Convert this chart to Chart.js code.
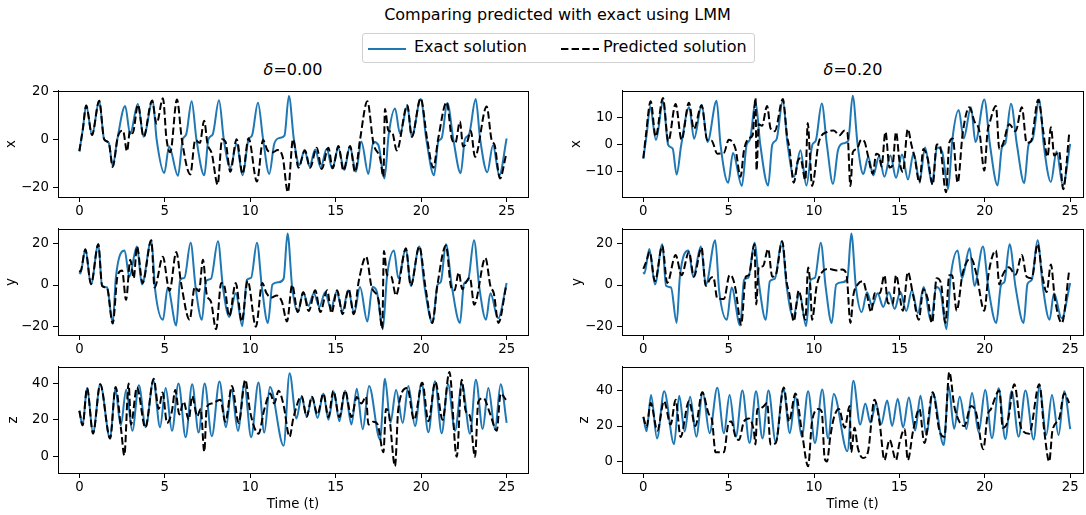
<!DOCTYPE html>
<html>
<head>
<meta charset="utf-8">
<script src="https://cdn.jsdelivr.net/npm/chart.js@4.4.1/dist/chart.umd.min.js"></script>
<style>
  html, body { margin: 0; padding: 0; background: #fff; }
  body { width: 1086px; height: 515px; position: relative; overflow: hidden;
         font-family: "DejaVu Sans", sans-serif; color: #000; }
  .suptitle { position: absolute; left: 0; width: 1115px; top: 6px; text-align: center;
              font-size: 16px; line-height: 18px; }
  .legend { position: absolute; left: 362px; top: 33px; width: 391px; height: 28px;
            border: 1px solid #d0d0d0; border-radius: 3px; background: #fff; }
  .legend svg { position: absolute; top: 13px; }
  .legend span { position: absolute; top: 4px; font-size: 16px; line-height: 18px; white-space: nowrap; }
  .ptitle { position: absolute; top: 61px; font-size: 16px; line-height: 18px; text-align: center; }
  .panel { position: absolute; }
</style>
</head>
<body>
<div class="suptitle">Comparing predicted with exact using LMM</div>
<div class="legend">
  <svg style="left:4px" width="40" height="4"><line x1="1" y1="2" x2="39" y2="2" stroke="#1f77b4" stroke-width="2"/></svg>
  <span style="left:51px">Exact solution</span>
  <svg style="left:197px" width="40" height="4"><line x1="1" y1="2" x2="39" y2="2" stroke="#000" stroke-width="2" stroke-dasharray="7.4 3.2"/></svg>
  <span style="left:240px">Predicted solution</span>
</div>
<div class="ptitle" style="left:58px;width:470px"><i>δ</i>=0.00</div>
<div class="ptitle" style="left:622px;width:462px"><i>δ</i>=0.20</div>

<script>
// time / value pairs for the exact Lorenz trajectory (same in both columns)
const exactX = [[0,-5],[0.2,4],[0.4,14],[0.74,1.8],[1.16,16],[1.45,0],[1.72,-1.5],[1.95,-11],[2.22,0],[2.68,13.8],[2.97,2.2],[3.42,14.6],[3.76,1],[4.29,16.2],[4.52,0],[4.97,-14],[5.25,-3],[5.77,-15.2],[6.05,0],[6.25,2],[6.57,15.8],[6.85,0],[7.31,-15],[7.55,0],[7.8,2],[8.17,16.2],[8.45,0],[8.83,-11.8],[9.2,-2],[9.55,-15],[9.9,0],[10.1,1.5],[10.45,15.2],[10.75,0],[11.11,-14.4],[11.4,-2],[11.7,0.5],[12.0,1.5],[12.26,18],[12.55,0],[12.88,-10.8],[13.17,-4.5],[13.47,-11.3],[13.8,-4.3],[14.12,-11.8],[14.47,-4],[14.8,-12.2],[15.15,-3.6],[15.5,-12.8],[15.83,-3],[16.18,-13.5],[16.5,-1],[16.91,-14.4],[17.2,-1],[17.5,-2.5],[17.85,-16.3],[18.1,2],[18.47,12.8],[18.76,2.3],[19.19,13.8],[19.45,1],[19.97,16.7],[20.3,0],[20.75,-15],[21.0,-1],[21.2,0.5],[21.53,15.1],[21.88,0],[22.31,-14.1],[22.56,0],[22.8,2],[23.19,16.7],[23.45,0],[23.87,-13.7],[24.2,-2.5],[24.57,-15],[25,0.3]];
const exactY = [[0,6.2],[0.06,5.5],[0.35,17.3],[0.68,0.3],[1.11,19.6],[1.33,-0.4],[1.62,-1.2],[1.95,-18.2],[2.14,4],[2.65,16.6],[2.92,4],[3.37,18.5],[3.66,0.3],[4.21,21.5],[4.44,-2.7],[4.89,-16.7],[5.17,-1.2],[5.67,-19.4],[5.9,2.5],[6.15,3.5],[6.51,20.3],[6.8,-1],[7.17,-16.7],[7.41,1.8],[7.7,3],[8.11,21],[8.4,-1],[8.77,-15.3],[9.15,-4],[9.53,-19.7],[9.8,2.5],[10.05,3.5],[10.39,20.3],[10.68,-1],[11.03,-18.2],[11.3,0.3],[11.66,1.3],[11.95,3],[12.18,24.7],[12.45,-1],[12.79,-13],[13.1,-3.5],[13.4,-10],[13.72,-4],[14.05,-10.5],[14.38,-3.5],[14.72,-11.5],[15.05,-3.2],[15.4,-12.5],[15.73,-2.5],[16.08,-13.5],[16.42,-1],[16.85,-17.5],[17.15,-1],[17.4,-3],[17.75,-21.2],[18.0,4],[18.41,16.6],[18.66,3.3],[19.11,17.6],[19.39,-0.4],[19.89,18.5],[20.2,-1],[20.67,-18.2],[20.95,0],[21.15,1.5],[21.45,19.6],[21.8,-1],[22.27,-18.2],[22.5,0.5],[22.75,2.5],[23.09,21.5],[23.4,-1],[23.79,-16.7],[24.05,-4],[24.5,-16],[25,1]];
const exactZ = [[0,25],[0.19,17],[0.45,37.5],[0.8,13],[1.22,39.5],[1.8,9.8],[2.1,37],[2.42,17],[2.74,36.5],[3.1,14],[3.48,39],[3.88,16],[4.33,41.5],[4.72,16],[5.05,37.5],[5.42,14],[5.8,40],[6.22,10.5],[6.6,39.5],[6.98,13],[7.33,40],[7.75,11],[8.2,41],[8.58,16],[8.9,36.5],[9.28,14],[9.65,39.5],[10.05,10.5],[10.48,40.5],[10.82,13],[11.15,38],[11.95,5.8],[12.3,45.5],[12.7,20.8],[13.0,32.7],[13.3,22],[13.63,32.7],[13.93,21],[14.28,34.4],[14.57,20],[14.9,35.3],[15.21,19.2],[15.55,36],[15.92,17.5],[16.23,37],[16.58,14.9],[16.95,38.6],[17.59,9.3],[17.88,42.5],[18.2,18.5],[18.53,36.4],[18.92,18.3],[19.25,38.6],[19.64,16.6],[20.02,40.3],[20.42,13.2],[20.81,41.2],[21.2,12.7],[21.57,39.5],[21.98,14],[22.38,40],[22.86,12.4],[23.2,42],[23.6,15],[23.93,37.5],[24.32,14.9],[24.65,39.5],[25,18.3]];

// predicted trajectory, delta = 0.00
const predX0 = [[0,-5],[0.2,4],[0.4,14],[0.74,1.8],[1.16,16],[1.45,0],[1.72,-1.5],[1.95,-11.5],[2.25,1],[2.55,3.6],[2.79,-5],[2.96,3.5],[3.12,2.5],[3.43,14.3],[3.76,1],[4.25,16],[4.52,6.5],[4.89,17],[5.1,0],[5.32,-5.4],[5.71,16.5],[6.0,-0.3],[6.49,-14.6],[6.78,-0.3],[7.05,-1.5],[7.3,7.7],[7.5,-2],[7.75,-6],[8.09,-18.8],[8.35,0],[8.55,-1],[8.83,-13.5],[9.2,0],[9.55,-14.4],[9.9,0.4],[10.39,-17.6],[10.75,-0.3],[11.0,-4.5],[11.3,-5.5],[11.6,-4.5],[11.9,-7.5],[12.2,-22],[12.5,0],[12.82,-11.8],[13.2,-4.7],[13.5,-11.8],[13.89,-3.5],[14.18,-12.4],[14.57,-3.5],[14.82,-12],[15.16,-2.8],[15.45,-13],[15.84,-2.8],[16.13,-13.6],[16.42,-0.3],[16.85,15.8],[17.2,-1.5],[17.6,-8],[17.79,-15.6],[17.88,12.6],[18.08,3.6],[18.3,3],[18.57,-4.7],[19.19,14.1],[19.45,1],[19.97,17],[20.35,0],[20.71,-11.8],[21.0,0.4],[21.49,15.4],[21.8,0],[22.0,-1.5],[22.27,7.4],[22.45,-3],[22.7,-1],[22.9,3.5],[23.15,-7.3],[23.83,13.6],[24.12,-0.3],[24.3,-2.5],[24.61,-16.3],[24.96,-6.7]];
const predY0 = [[0,7],[0.06,6.5],[0.35,17],[0.68,0.5],[1.11,19.6],[1.33,-0.4],[1.62,-1.5],[1.95,-18.5],[2.24,4.7],[2.5,7],[2.73,-7.1],[2.98,12.1],[3.18,3.3],[3.37,18.5],[3.7,1],[4.21,21.5],[4.4,-1.2],[4.89,13.6],[5.17,0.3],[5.28,-2.7],[5.67,15.9],[5.95,1],[6.45,-16.7],[6.75,-1],[7.0,-3],[7.23,12.1],[7.45,-4.5],[7.7,-8],[8.0,-21.2],[8.3,1],[8.5,-1],[8.77,-15],[9.15,1],[9.5,-17.5],[9.85,2],[10.33,-20],[10.7,1],[10.95,-4],[11.25,-6],[11.55,-5],[11.85,-8],[12.15,-17.5],[12.45,0],[12.78,-13],[13.1,-3.5],[13.42,-12.5],[13.8,-2.5],[14.1,-13],[14.5,-2.5],[14.75,-13.5],[15.08,-2.5],[15.4,-14],[15.76,-2],[16.05,-14],[16.35,2],[16.78,13.6],[17.1,-1],[17.5,-7],[17.72,-21],[17.82,16.3],[18.0,5],[18.25,4],[18.52,-5],[19.11,17.5],[19.39,-0.4],[19.89,18.5],[20.25,-1],[20.65,-18.2],[20.95,0],[21.45,19],[21.75,-1],[21.95,-2.5],[22.2,6],[22.4,-2],[22.6,1],[22.85,3.5],[23.1,-9.5],[23.76,13],[24.05,-0.5],[24.25,-4],[24.52,-18.2],[24.96,-1]];
const predZ0 = [[0,25],[0.19,17],[0.45,37.5],[0.8,12.4],[1.22,39.5],[1.8,9.8],[2.12,38],[2.45,14],[2.63,0.5],[2.88,40],[3.02,17.5],[3.37,37.8],[3.86,15.8],[4.35,42.5],[4.64,26],[4.87,35],[5.13,18.3],[5.42,25],[5.61,36.4],[5.85,23],[6.1,30],[6.4,20],[6.6,33],[6.9,22],[7.1,26],[7.31,2.5],[7.45,27],[7.75,29],[8.25,31],[8.54,19],[8.93,38.6],[9.32,18.3],[9.71,42],[10.0,24],[10.49,12.4],[10.8,25],[11.17,34.4],[11.4,29],[11.66,36],[11.95,28],[12.3,10.7],[12.52,21],[13.01,33],[13.3,21.7],[13.6,32.7],[13.93,23],[14.28,34.4],[14.57,21.5],[14.86,36],[15.21,21.5],[15.55,36],[15.92,21.5],[16.23,32.5],[16.5,29],[16.77,32.7],[16.91,17.5],[17.2,19],[17.45,17.5],[17.79,2.2],[17.94,26],[18.1,24],[18.47,-5.4],[18.66,26],[19.19,37.5],[19.58,20],[20.07,40.3],[20.42,19.2],[20.83,40.8],[21.25,20],[21.65,46.3],[22.08,-0.3],[22.37,42],[22.6,25],[22.85,22],[23.15,-0.3],[23.34,30],[23.64,31.9],[24.03,23.4],[24.42,14],[24.65,34.4],[24.96,31]];

// predicted trajectory, delta = 0.20
const predX2 = [[0,-5],[0.14,3],[0.43,16],[0.72,3],[1.15,17.2],[1.46,1.2],[1.89,15],[2.24,1.8],[2.67,15.5],[2.96,5.8],[3.41,14.5],[3.74,1.8],[4.0,1.5],[4.33,-3.3],[4.72,-3],[5.0,1.8],[5.15,1.5],[5.4,-1.6],[5.69,-11.8],[5.89,-2.2],[6.18,2.4],[6.4,3.5],[6.57,17.2],[6.63,-9.5],[6.76,7.5],[6.95,7],[7.25,14.3],[7.45,6],[7.7,5],[8.17,16.8],[8.42,3],[8.55,-1],[8.81,-14],[9.05,-6],[9.2,-5],[9.49,-13],[9.63,8],[9.75,-3],[9.88,-15.2],[10.27,0.7],[10.76,4.7],[11.15,5.2],[11.49,3.5],[11.78,5.2],[11.95,4.5],[12.13,-15.2],[12.27,-2.7],[12.5,-1.6],[12.76,1.8],[12.95,1.2],[13.15,-3.9],[13.44,-10.7],[13.64,-3.3],[13.8,-3.8],[13.95,-8],[14.18,4.7],[14.42,-8.4],[14.6,-7.5],[14.8,4.7],[15.0,-6],[15.2,-10],[15.49,5.8],[15.7,0],[15.9,-5],[16.17,-14],[16.4,-1.6],[16.65,-5],[16.95,-14.7],[17.18,0.1],[17.35,0],[17.73,-17.5],[17.92,0.7],[18.12,2.3],[18.41,-14],[18.7,4],[19.09,13.8],[19.39,8.6],[19.68,5],[19.97,-9.5],[20.16,5],[20.26,7.5],[20.65,14.3],[20.85,-1.6],[21.05,0.1],[21.43,7.5],[21.8,5],[22.17,13.8],[22.45,0.7],[22.7,1.2],[23.13,16.6],[23.42,5],[23.67,-4.4],[23.87,6.4],[24.07,-4],[24.35,-2.5],[24.59,-16.4],[24.94,4.1]];
const predY2 = [[0,7.7],[0.18,11.4],[0.37,15.9],[0.68,1.8],[1.11,18.8],[1.4,1],[1.89,14.4],[2.24,4.7],[2.67,15.9],[2.96,4],[3.41,18],[3.65,-0.4],[3.94,3.3],[4.1,3.8],[4.33,-6.4],[4.72,-6.7],[5.05,4.7],[5.2,4],[5.4,-2],[5.73,-19],[6.0,4],[6.18,4.7],[6.51,19.6],[6.61,-9.3],[6.76,8.5],[7.0,9],[7.31,17.3],[7.55,4],[7.75,4.7],[8.13,21],[8.4,1],[8.55,-4],[8.81,-17.5],[9.1,-2.7],[9.49,-16.7],[9.65,8.4],[9.78,-0.5],[9.88,-16.7],[10.15,-0.5],[10.47,6.2],[10.86,7.7],[11.35,7],[11.65,7.5],[11.9,5],[12.13,-18.2],[12.3,-4.9],[12.56,0.3],[12.86,1.8],[13.1,-4.9],[13.34,-13],[13.55,-4],[13.85,-4],[14.12,4.7],[14.32,-8.5],[14.6,-9.3],[14.8,4.7],[15.2,-12.3],[15.49,6.2],[15.8,-4.9],[16.13,-16.7],[16.4,-2],[16.65,-6.5],[16.91,-18.2],[17.18,3.3],[17.43,1],[17.69,-18.2],[17.92,4.7],[18.08,4.7],[18.35,-12.3],[18.7,5.5],[19.19,12.9],[19.5,5.5],[19.97,-12.3],[20.22,5.5],[20.65,16.6],[20.85,0.3],[21.0,4],[21.4,8.5],[21.8,5],[22.17,14.4],[22.45,4],[22.75,3.3],[23.09,19.6],[23.38,4],[23.62,-3.4],[23.87,9.9],[24.1,-6.4],[24.51,-18.2],[24.94,7]];
const predZ2 = [[0,25.2],[0.19,19.5],[0.43,33],[0.82,17.4],[1.21,34],[1.6,20.9],[1.89,34.8],[2.18,13.9],[2.67,34],[3.05,20],[3.45,39],[3.82,27],[4.02,23.5],[4.23,5.2],[4.72,5.2],[4.97,21],[5.15,22.6],[5.4,13.9],[5.6,12.2],[5.89,22.6],[6.18,24.3],[6.47,17.4],[6.57,9.6],[6.67,29.6],[6.8,29.6],[7.06,31.3],[7.25,33],[7.45,9.6],[7.75,10.4],[8.23,41.7],[8.53,22.6],[8.91,38.3],[9.3,15.7],[9.65,-2.6],[9.88,22.6],[10.27,29.6],[10.45,28],[10.62,1.7],[10.75,0],[10.95,14],[11.15,24.3],[11.45,29.6],[11.8,19],[12.08,31.3],[12.17,5.2],[12.37,19],[12.56,7.8],[12.86,2],[13.15,5.2],[13.54,34.8],[13.84,21.7],[14.12,0.9],[14.42,12.2],[14.8,0.9],[15.0,10.4],[15.3,18.3],[15.49,0.9],[15.8,17.4],[16.17,29.6],[16.46,10.4],[16.95,39],[17.34,17.4],[17.63,13.9],[17.92,50.4],[18.21,31.3],[18.5,22.6],[18.8,20],[19.19,31.3],[19.48,27.8],[19.91,7],[20.16,26],[20.36,29.6],[20.85,40],[21.05,19],[21.34,22.6],[21.73,43.5],[22.12,19],[22.6,15.7],[23.19,43.5],[23.48,17.4],[23.77,0],[23.96,17.4],[24.36,24.3],[24.65,38.3],[24.94,33]];

// axis limits per row [min, max] and the tick values shown
const yLimLeft  = [[-24, 20.05], [-24, 26.9], [-9.15, 49]];
const yLimRight = [[-19.25, 19.8], [-24, 26.9], [-6.4, 53.2]];
const yTicksLeft  = [[-20, 0, 20], [-20, 0, 20], [0, 20, 40]];
const yTicksRight = [[-10, 0, 10], [-20, 0, 20], [0, 20, 40]];
const xTicks = [0, 5, 10, 15, 20, 25];
const varNames = ['x', 'y', 'z'];
const timeTitle = 'Time (t)';

const FONT = '"DejaVu Sans", sans-serif';
const BLUE = '#1f77b4';

// draws the closed axes frame (top and right sides included)
const framePlugin = {
  id: 'frame',
  afterDraw(chart) {
    const a = chart.chartArea, ctx = chart.ctx;
    ctx.save();
    ctx.strokeStyle = '#000';
    ctx.lineWidth = 1;
    ctx.strokeRect(Math.round(a.left) + 0.5, Math.round(a.top) + 0.5,
                   Math.round(a.right - a.left), Math.round(a.bottom - a.top));
    ctx.restore();
  }
};

const toPoints = pairs => pairs.map(p => ({ x: p[0], y: p[1] }));
const minusFmt = v => (v < 0 ? '\u2212' + Math.abs(v) : String(v));
const fixedTicks = values => scale => { scale.ticks = values.map(v => ({ value: v })); };

function makePanel(o) {
  const [L, T, R, B] = o.frame;
  const xH = o.xTitle ? 40 : 28;
  const left = o.labelX - 10;
  const top = T - 3;
  const w = R - left + 3;
  const h = Math.round(B - top) + xH;
  const yW = L - left;

  const wrap = document.createElement('div');
  wrap.className = 'panel';
  wrap.style.left = left + 'px';
  wrap.style.top = top + 'px';
  const cv = document.createElement('canvas');
  cv.width = w; cv.height = h;
  cv.style.width = w + 'px'; cv.style.height = h + 'px';
  wrap.appendChild(cv);
  document.body.appendChild(wrap);

  const tickFont = { family: FONT, size: 13.3 };
  new Chart(cv.getContext('2d'), {
    type: 'line',
    data: {
      datasets: [
        { label: 'Predicted solution', data: toPoints(o.pred), borderColor: '#000',
          borderWidth: 2, borderDash: [7.4, 3.2], pointRadius: 0, fill: false,
          cubicInterpolationMode: 'monotone', order: 0 },
        { label: 'Exact solution', data: toPoints(o.exact), borderColor: BLUE,
          borderWidth: 2, pointRadius: 0, fill: false,
          cubicInterpolationMode: 'monotone', order: 1 }
      ]
    },
    options: {
      responsive: false,
      animation: false,
      events: [],
      layout: { padding: { top: 3, right: 3, left: 0, bottom: 0 } },
      plugins: { legend: { display: false }, tooltip: { enabled: false } },
      scales: {
        x: {
          type: 'linear', min: -1.25, max: o.xMax,
          afterBuildTicks: fixedTicks(xTicks),
          afterFit: s => { s.height = xH; },
          ticks: { color: '#000', font: tickFont, maxRotation: 0, padding: 2 },
          grid: { drawOnChartArea: false, drawTicks: true, tickLength: 5, color: '#000' },
          border: { display: true, color: '#000' },
          title: { display: !!o.xTitle, text: timeTitle, color: '#000', font: tickFont,
                   padding: { top: 0, bottom: 0 } }
        },
        y: {
          type: 'linear', min: o.lim[0], max: o.lim[1],
          afterBuildTicks: fixedTicks(o.ticks),
          afterFit: s => { s.width = yW; },
          ticks: { color: '#000', font: tickFont, padding: 4, callback: minusFmt },
          grid: { drawOnChartArea: false, drawTicks: true, tickLength: 5, color: '#000' },
          border: { display: true, color: '#000' },
          title: { display: true, text: o.label, color: '#000', font: tickFont,
                   padding: { top: 2, bottom: 0 } }
        }
      }
    },
    plugins: [framePlugin]
  });
}

const rowTops = [82, 220, 358];
const rowH = 114.5;
const leftLabelX = [12, 12, 14];
const rightLabelX = [577, 578, 585];
const exactSeries = [exactX, exactY, exactZ];
const predLeft = [predX0, predY0, predZ0];
const predRight = [predX2, predY2, predZ2];

for (let r = 0; r < 3; r++) {
  const T = rowTops[r], B = T + rowH;
  makePanel({ frame: [58, T, 528, B], lim: yLimLeft[r], ticks: yTicksLeft[r], xMax: 26.25,
              label: varNames[r], labelX: leftLabelX[r], exact: exactSeries[r],
              pred: predLeft[r], xTitle: r === 2 });
  makePanel({ frame: [622, T, 1083, B], lim: yLimRight[r], ticks: yTicksRight[r], xMax: 25.75,
              label: varNames[r], labelX: rightLabelX[r], exact: exactSeries[r],
              pred: predRight[r], xTitle: r === 2 });
}
</script>
</body>
</html>
